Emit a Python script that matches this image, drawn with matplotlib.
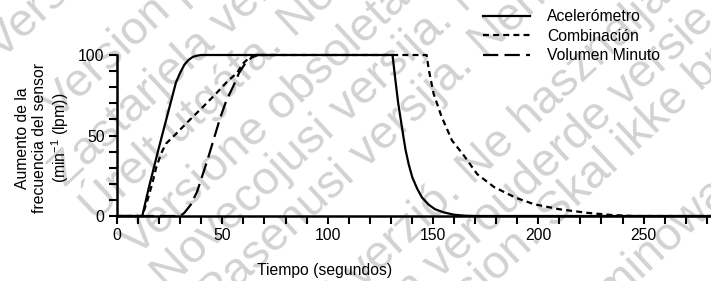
import math

import matplotlib
matplotlib.use("Agg")
import matplotlib.pyplot as plt

plt.rcParams["font.family"] = ["Liberation Sans", "DejaVu Sans"]
plt.rcParams["mathtext.fontset"] = "custom"
plt.rcParams["mathtext.rm"] = "Liberation Sans"
plt.rcParams["lines.scale_dashes"] = False

# time (s) / sensor rate increase (min-1)
acc_t = [0, 12, 15, 20, 25, 28, 30, 32, 34, 36, 38, 40, 130.8, 131.5, 132.3,
         133.5, 134.7, 136, 137, 138.5, 140.2, 142.5, 144.8, 148, 151, 155,
         160, 165, 170, 282]
acc_v = [0, 0, 17, 43, 68, 83, 89, 94, 97, 98.8, 99.6, 100, 100, 92, 83,
         70, 60, 49, 41, 32, 24, 17, 11.5, 7, 4.2, 2.3, 0.8, 0.2, 0, 0]

comb_t = [0, 12, 14.5, 16.7, 18.6, 21, 23.3, 28, 34, 41, 47, 52, 57, 60, 63,
          66, 147, 148, 150.3, 154, 159, 165, 171, 179, 189, 198, 210, 223,
          235, 245, 282]
comb_v = [0, 0, 10, 20, 30, 39, 45, 51, 59, 68, 76, 83, 89, 95, 98.5,
          100, 100, 91, 76, 62, 47, 37, 26, 18, 11.5, 7.3, 4.2, 2, 0.6, 0, 0]

vol_t = [0, 30, 32, 35, 38, 41, 43, 46, 49, 52, 55, 58, 61, 64, 67, 75]
vol_v = [0, 0, 2, 7, 15, 27, 35, 48, 61, 72, 80, 89, 95, 98.5, 100, 100]

labels = ["Acelerómetro", "Combinación", "Volumen Minuto"]

# background watermark: (offset across lines px, offset along line px, text)
wm_lines = [
    (28, -40, "Version obsolète. Ne pas utiliser."),
    (110, -40, "Version périmée. Ne pas utiliser."),
    (165, -80, "Zastarjela verzija. Nemojte upotrebljavati."),
    (208, -82, "Úrelt útgáfa. Notið ekki."),
    (264, -75, "Versione obsoleta. Non utilizzare."),
    (310, -76, "Novecojusi versija. Neizmantot."),
    (356, -55, "Pasenusi versija. Nenaudokite."),
    (441, -88, "Elavult verzió. Ne használja!"),
    (487, -79, "Dit is een verouderde versie. Niet gebruiken."),
    (528, -112, "Utdatert versjon. Skal ikke brukes."),
    (625, -68, "Wersja przeterminowana. Nie używać."),
]
wm_angle = 43

W, H = 711, 281
fig = plt.figure(figsize=(W / 100, H / 100), dpi=100)

ca, sa = math.cos(math.radians(wm_angle)), math.sin(math.radians(wm_angle))
for d, s, text in wm_lines:
    px = sa * d + ca * s
    py = ca * d - sa * s
    fig.text(px / W, 1 - py / H, text, rotation=wm_angle,
             rotation_mode="anchor", ha="left", va="center_baseline",
             fontsize=34, color="#d2d2d2", zorder=-1)

ax = fig.add_axes([117 / W, 1 - 216 / H, (W - 117) / W, (216 - 55) / H])
ax.patch.set_alpha(0)

fs = 11.3
ax.plot(vol_t, vol_v, color="black", lw=1.6, dashes=(11, 4.5), clip_on=False,
        label=labels[2])
ax.plot(comb_t, comb_v, color="black", lw=1.6, dashes=(4.3, 3), clip_on=False,
        label=labels[1])
ax.plot(acc_t, acc_v, color="black", lw=1.6, clip_on=False, label=labels[0])

ax.set_xlim(0, 282)
ax.set_ylim(0, 100)
ax.set_xticks(range(0, 281, 10))
ax.set_xticklabels([str(t) if t % 50 == 0 else "" for t in range(0, 281, 10)])
ax.set_yticks(range(0, 101, 10))
ax.set_yticklabels([str(v) if v % 50 == 0 else "" for v in range(0, 101, 10)])
ax.tick_params(axis="both", which="major", direction="out", length=6,
               width=1.5, color="black", labelsize=fs, pad=3)
for side in ["top", "right"]:
    ax.spines[side].set_visible(False)
for side in ["left", "bottom"]:
    ax.spines[side].set_linewidth(1.8)

handles, labs = ax.get_legend_handles_labels()
order = [2, 1, 0]
ax.legend([handles[i] for i in order], [labs[i] for i in order],
          loc="upper left", bbox_to_anchor=(483 / W, 1 - 9 / H),
          bbox_transform=fig.transFigure, frameon=False, fontsize=fs,
          handlelength=3.0, handletextpad=1.1, labelspacing=0.3,
          borderpad=0, borderaxespad=0)

fig.text(325 / W, 1 - 271 / H, "Tiempo (segundos)", ha="center", va="center",
         fontsize=fs)
fig.text(43 / W, 1 - 138 / H,
         "Aumento de la\nfrecuencia del sensor\n(min$^{\\mathregular{-1}}$ (lpm))",
         rotation=90, ha="center", va="center", multialignment="center",
         fontsize=fs, linespacing=1.15)

fig.savefig("out.png", dpi=100)
